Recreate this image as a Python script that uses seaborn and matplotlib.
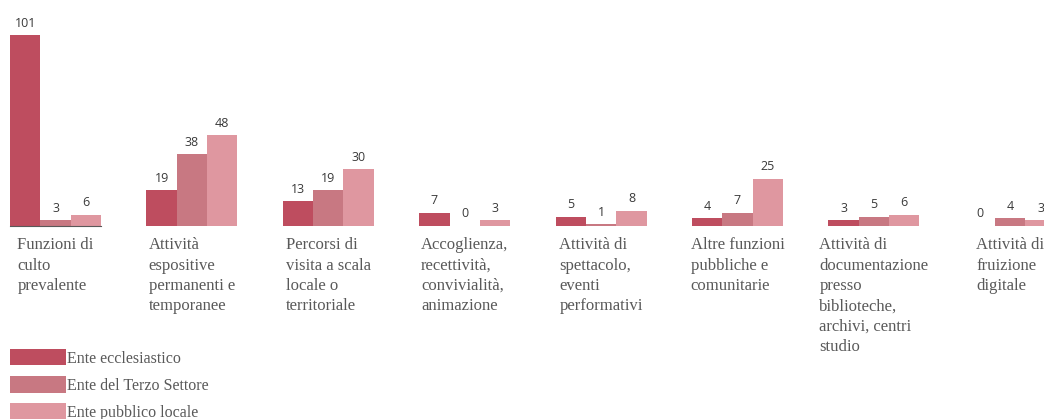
import matplotlib.pyplot as plt
import pandas as pd
import seaborn as sns

# categories (wrapped as in the original)
categorie = [
    'Funzioni di\nculto\nprevalente',
    'Attività\nespositive\npermanenti e\ntemporanee',
    'Percorsi di\nvisita a scala\nlocale o\nterritoriale',
    'Accoglienza,\nrecettività,\nconvivialità,\nanimazione',
    'Attività di\nspettacolo,\neventi\nperformativi',
    'Altre funzioni\npubbliche e\ncomunitarie',
    'Attività di\ndocumentazione\npresso\nbiblioteche,\narchivi, centri\nstudio',
    'Attività di\nfruizione\ndigitale',
]
serie = ['Ente ecclesiastico', 'Ente del Terzo Settore', 'Ente pubblico locale']
ecclesiastico = [101, 19, 13, 7, 5, 4, 3, 0]
terzo_settore = [3, 38, 19, 0, 1, 7, 5, 4]
pubblico = [6, 48, 30, 3, 8, 25, 6, 3]
colori = ['#BE4D5F', '#C87882', '#DF97A0']

df = pd.DataFrame({
    'categoria': categorie * 3,
    'ente': [serie[0]] * 8 + [serie[1]] * 8 + [serie[2]] * 8,
    'valore': ecclesiastico + terzo_settore + pubblico,
})

sns.set_style('white')
fig = plt.figure(figsize=(10.44, 4.19), dpi=100)
ax = fig.add_axes([0, 1 - 226 / 419, 1, 226 / 419])

sns.barplot(data=df, x='categoria', y='valore', hue='ente', hue_order=serie,
            palette=colori, width=0.667, saturation=1, linewidth=0, ax=ax)

for c in ax.containers:
    ax.bar_label(c, padding=4, fontsize=9, color='#3A3A3A', family='Open Sans')

ax.set_xlim(-0.407, 7.247)
ax.set_ylim(0, 119.6)
ax.set_xlabel('')
ax.set_ylabel('')
ax.set_yticks([])
ax.tick_params(axis='x', length=0, pad=8)
for t in ax.get_xticklabels():
    t.set_multialignment('left')
    t.set_family('Liberation Serif')
    t.set_fontsize(12)
    t.set_color('#595959')
    t.set_linespacing(1.37)

sns.despine(ax=ax, left=True)
ax.spines['bottom'].set_bounds(-0.333, 0.333)
ax.spines['bottom'].set_color('#595959')

handles, labels = ax.get_legend_handles_labels()
ax.get_legend().remove()
fig.legend(handles, labels, loc='upper left', bbox_to_anchor=(10 / 1044, 1 - 349 / 419),
           frameon=False, borderpad=0, borderaxespad=0, handlelength=3.5, handleheight=1.2,
           handletextpad=0.05, labelspacing=0.6,
           prop={'family': 'Liberation Serif', 'size': 11.5}, labelcolor='#595959')

fig.savefig('out.png')
